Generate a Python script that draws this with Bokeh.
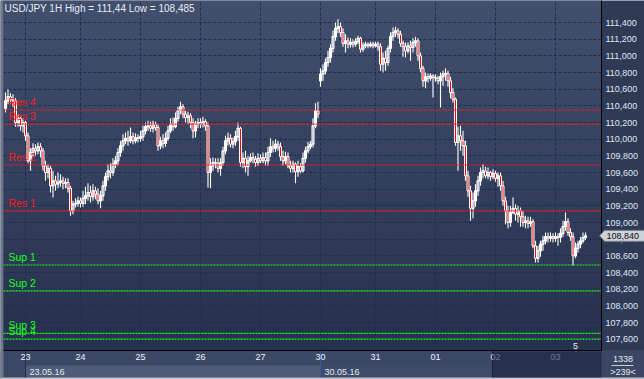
import numpy as np
from bokeh.plotting import figure
from bokeh.models import (Range1d, LinearAxis, FixedTicker, CustomJSTickFormatter,
                          ColumnDataSource, Label, Grid)
from bokeh.embed import file_html
from bokeh.resources import INLINE
from bokeh.core.properties import value

# ---------------- data (USD/JPY, 1H bars) ----------------
opens = [
    110.37, 110.46, 110.51, 110.48, 110.46, 110.20, 110.25, 110.16, 110.20, 110.04,
    109.74, 109.84, 109.89, 109.86, 109.91, 109.86, 109.68, 109.60, 109.65, 109.44,
    109.50, 109.46, 109.48, 109.50, 109.47, 109.48, 109.41, 109.14, 109.22, 109.23,
    109.26, 109.23, 109.29, 109.32, 109.36, 109.31, 109.38, 109.34, 109.26, 109.32,
    109.44, 109.55, 109.62, 109.60, 109.70, 109.74, 109.84, 109.92, 109.98, 110.01,
    109.98, 110.03, 109.98, 110.02, 110.01, 110.03, 110.10, 110.15, 110.16, 110.13,
    110.18, 110.14, 109.92, 109.98, 109.95, 110.01, 110.10, 110.18, 110.15, 110.25,
    110.34, 110.39, 110.30, 110.26, 110.28, 110.20, 110.10, 110.18, 110.20, 110.18,
    110.21, 110.16, 109.60, 109.68, 109.72, 109.71, 109.65, 109.72, 109.86, 109.98,
    110.01, 109.94, 109.97, 110.03, 110.13, 109.72, 109.77, 109.67, 109.74, 109.78,
    109.76, 109.72, 109.77, 109.74, 109.78, 109.74, 109.84, 109.91, 109.89, 109.94,
    109.91, 109.79, 109.74, 109.79, 109.68, 109.65, 109.70, 109.61, 109.67, 109.62,
    109.77, 109.86, 109.91, 109.94, 110.16, 110.34, 110.70, 110.78, 110.82, 110.92,
    110.98, 111.09, 111.23, 111.33, 111.35, 111.28, 111.15, 111.18, 111.14, 111.16,
    111.14, 111.17, 111.21, 111.08, 111.12, 111.14, 111.12, 111.14, 111.12, 111.14,
    111.11, 110.90, 110.97, 110.92, 111.09, 111.23, 111.28, 111.30, 111.26, 111.15,
    111.11, 111.06, 111.12, 111.10, 111.16, 111.18, 111.00, 110.85, 110.70, 110.75,
    110.73, 110.76, 110.74, 110.73, 110.70, 110.75, 110.78, 110.79, 110.70, 110.56,
    110.48, 109.96, 110.04, 109.98, 109.92, 109.56, 109.38, 109.17, 109.26, 109.38,
    109.50, 109.60, 109.62, 109.56, 109.60, 109.55, 109.59, 109.53, 109.56, 109.44,
    109.26, 109.14, 109.00, 109.12, 109.17, 109.10, 109.14, 109.07, 109.00, 109.02,
    108.99, 109.01, 108.72, 108.57, 108.66, 108.74, 108.78, 108.83, 108.81, 108.83,
    108.81, 108.83, 108.82, 108.87, 108.95, 109.01, 108.88, 108.83, 108.60, 108.69,
    108.74, 108.78, 108.82,
]
highs = [
    110.56, 110.60, 110.55, 110.54, 110.49, 110.30, 110.28, 110.25, 110.22, 110.08,
    109.89, 109.95, 109.94, 109.96, 109.95, 109.89, 109.74, 109.70, 109.68, 109.62,
    109.56, 109.60, 109.58, 109.55, 109.53, 109.53, 109.44, 109.26, 109.29, 109.31,
    109.30, 109.38, 109.43, 109.47, 109.44, 109.46, 109.43, 109.41, 109.38, 109.50,
    109.60, 109.70, 109.71, 109.77, 109.80, 109.89, 109.98, 110.06, 110.08, 110.10,
    110.14, 110.08, 110.07, 110.06, 110.10, 110.16, 110.20, 110.22, 110.21, 110.22,
    110.21, 110.18, 110.03, 110.06, 110.08, 110.16, 110.25, 110.26, 110.32, 110.39,
    110.45, 110.42, 110.34, 110.33, 110.31, 110.25, 110.22, 110.25, 110.25, 110.27,
    110.24, 110.20, 109.77, 109.78, 109.77, 109.77, 109.77, 109.91, 110.04, 110.08,
    110.06, 110.02, 110.10, 110.20, 110.15, 109.84, 109.86, 109.80, 109.83, 109.84,
    109.80, 109.83, 109.82, 109.84, 109.84, 109.91, 110.01, 109.98, 110.00, 109.98,
    109.96, 109.86, 109.85, 109.84, 109.74, 109.74, 109.72, 109.74, 109.71, 109.84,
    109.91, 109.97, 109.98, 110.25, 110.43, 110.45, 110.85, 110.90, 110.97, 111.06,
    111.14, 111.30, 111.40, 111.44, 111.40, 111.33, 111.26, 111.22, 111.21, 111.20,
    111.21, 111.24, 111.23, 111.16, 111.17, 111.16, 111.17, 111.17, 111.17, 111.17,
    111.15, 111.04, 111.06, 111.12, 111.28, 111.34, 111.35, 111.33, 111.30, 111.18,
    111.16, 111.16, 111.18, 111.21, 111.23, 111.21, 111.04, 110.88, 110.80, 110.79,
    110.79, 110.78, 110.78, 110.76, 110.80, 110.82, 110.85, 110.82, 110.75, 110.61,
    110.50, 110.15, 110.16, 110.10, 109.98, 109.62, 109.44, 109.36, 109.46, 109.56,
    109.66, 109.70, 109.67, 109.66, 109.62, 109.64, 109.62, 109.60, 109.60, 109.50,
    109.31, 109.20, 109.20, 109.30, 109.22, 109.20, 109.18, 109.14, 109.08, 109.07,
    109.07, 109.04, 108.78, 108.72, 108.78, 108.84, 108.88, 108.88, 108.88, 108.87,
    108.88, 108.87, 108.93, 109.02, 109.12, 109.05, 108.93, 108.88, 108.76, 108.78,
    108.83, 108.88, 108.88,
]
lows = [
    110.32, 110.42, 110.43, 110.39, 110.15, 110.15, 110.10, 110.08, 109.98, 109.71,
    109.62, 109.79, 109.80, 109.82, 109.78, 109.62, 109.50, 109.53, 109.36, 109.30,
    109.38, 109.41, 109.43, 109.40, 109.41, 109.36, 109.08, 109.10, 109.18, 109.19,
    109.18, 109.19, 109.22, 109.26, 109.24, 109.26, 109.28, 109.22, 109.17, 109.26,
    109.38, 109.50, 109.53, 109.56, 109.65, 109.68, 109.79, 109.86, 109.94, 109.92,
    109.95, 109.94, 109.95, 109.96, 109.97, 109.98, 110.06, 110.10, 110.09, 110.08,
    110.10, 109.86, 109.88, 109.89, 109.91, 109.98, 110.07, 110.10, 110.13, 110.21,
    110.30, 110.25, 110.20, 110.18, 110.13, 110.01, 110.02, 110.13, 110.13, 110.14,
    110.10, 109.42, 109.41, 109.62, 109.65, 109.60, 109.56, 109.68, 109.82, 109.92,
    109.90, 109.89, 109.92, 109.98, 109.67, 109.65, 109.60, 109.56, 109.72, 109.71,
    109.67, 109.68, 109.71, 109.71, 109.68, 109.68, 109.79, 109.84, 109.85, 109.86,
    109.74, 109.68, 109.70, 109.65, 109.60, 109.60, 109.47, 109.55, 109.59, 109.60,
    109.72, 109.83, 109.88, 109.90, 110.13, 110.25, 110.63, 110.70, 110.78, 110.87,
    110.92, 111.04, 111.18, 111.27, 111.23, 111.11, 111.04, 111.09, 111.10, 111.10,
    111.11, 111.14, 111.04, 111.05, 111.09, 111.09, 111.10, 111.09, 111.10, 111.06,
    110.82, 110.80, 110.82, 110.88, 111.04, 111.18, 111.23, 111.21, 111.11, 110.99,
    110.98, 111.03, 110.94, 111.04, 111.11, 110.94, 110.80, 110.63, 110.61, 110.68,
    110.70, 110.50, 110.69, 110.66, 110.38, 110.64, 110.70, 110.63, 110.49, 110.44,
    109.92, 109.62, 109.86, 109.80, 109.50, 109.31, 109.02, 109.05, 109.19, 109.32,
    109.44, 109.53, 109.53, 109.52, 109.50, 109.52, 109.49, 109.43, 109.38, 109.20,
    108.98, 108.93, 108.95, 109.10, 109.02, 109.00, 108.95, 108.95, 108.93, 108.93,
    108.95, 108.69, 108.52, 108.52, 108.59, 108.66, 108.74, 108.76, 108.77, 108.76,
    108.77, 108.72, 108.76, 108.83, 108.90, 108.84, 108.78, 108.485, 108.57, 108.64,
    108.69, 108.75, 108.79,
]
closes = [
    110.46, 110.51, 110.48, 110.46, 110.20, 110.25, 110.16, 110.20, 110.04, 109.74,
    109.84, 109.89, 109.86, 109.91, 109.86, 109.68, 109.60, 109.65, 109.44, 109.50,
    109.46, 109.48, 109.50, 109.47, 109.48, 109.41, 109.14, 109.22, 109.23, 109.26,
    109.23, 109.29, 109.32, 109.36, 109.31, 109.38, 109.34, 109.26, 109.32, 109.44,
    109.55, 109.62, 109.60, 109.70, 109.74, 109.84, 109.92, 109.98, 110.01, 109.98,
    110.03, 109.98, 110.02, 110.01, 110.03, 110.10, 110.15, 110.16, 110.13, 110.18,
    110.14, 109.92, 109.98, 109.95, 110.01, 110.10, 110.18, 110.15, 110.25, 110.34,
    110.39, 110.30, 110.26, 110.28, 110.20, 110.10, 110.18, 110.20, 110.18, 110.21,
    110.16, 109.60, 109.68, 109.72, 109.71, 109.65, 109.72, 109.86, 109.98, 110.01,
    109.94, 109.97, 110.03, 110.13, 109.72, 109.77, 109.67, 109.74, 109.78, 109.76,
    109.72, 109.77, 109.74, 109.78, 109.74, 109.84, 109.91, 109.89, 109.94, 109.91,
    109.79, 109.74, 109.79, 109.68, 109.65, 109.70, 109.61, 109.67, 109.62, 109.77,
    109.86, 109.91, 109.94, 110.16, 110.34, 110.30, 110.78, 110.82, 110.92, 110.98,
    111.09, 111.23, 111.33, 111.35, 111.28, 111.15, 111.18, 111.14, 111.16, 111.14,
    111.17, 111.21, 111.08, 111.12, 111.14, 111.12, 111.14, 111.12, 111.14, 111.11,
    110.90, 110.97, 110.92, 111.09, 111.23, 111.28, 111.30, 111.26, 111.15, 111.11,
    111.06, 111.12, 111.10, 111.16, 111.18, 111.00, 110.85, 110.70, 110.75, 110.73,
    110.76, 110.74, 110.73, 110.70, 110.75, 110.78, 110.79, 110.70, 110.56, 110.48,
    109.96, 110.04, 109.98, 109.92, 109.56, 109.38, 109.17, 109.26, 109.38, 109.50,
    109.60, 109.62, 109.56, 109.60, 109.55, 109.59, 109.53, 109.56, 109.44, 109.26,
    109.14, 109.00, 109.12, 109.17, 109.10, 109.14, 109.07, 109.00, 109.02, 108.99,
    109.01, 108.72, 108.57, 108.66, 108.74, 108.78, 108.83, 108.81, 108.83, 108.81,
    108.83, 108.82, 108.87, 108.95, 109.01, 108.88, 108.83, 108.60, 108.69, 108.74,
    108.78, 108.82, 108.84,
]

day_labels = ["23", "24", "25", "26", "27", "30", "31", "01", "02", "03"]
day_start_bar = [8, 30, 54, 78, 102, 126, 148, 172, 196, 220]
week_labels = ["23.05.16", "30.05.16"]
week_start_bar = [8, 126]

level_names = ["Res 4", "Res 3", "Res 2", "Res 1", "Sup 1", "Sup 2", "Sup 3", "Sup 4"]
level_values = [110.35, 110.18, 109.69, 109.14, 108.49, 108.18, 107.67, 107.60]
level_colors = ["#ff1a1a"] * 4 + ["#1aff1a"] * 4

price_ticks = [107.6, 107.8, 108.0, 108.2, 108.4, 108.6, 108.8, 109.0, 109.2,
               109.4, 109.6, 109.8, 110.0, 110.2, 110.4, 110.6, 110.8, 111.0,
               111.2, 111.4]

title_text = "USD/JPY 1H High = 111,44 Low = 108,485"
bars_total = "1338"
bars_visible = ">239<"
page_no = "5"

# ---------------- layout ----------------
FONT = "Liberation Sans"
W, H = 644, 379
FL, FR, FT, FB = 3, 601, 0, 350        # frame edges in px
NAV_SPLIT, NAV_BOTTOM, FUTURE_PX = 365, 377, 492
x_start, x_end = -0.8, 238.4
y_start, y_end = 107.464, 111.664
ppx = (FR - FL) / (x_end - x_start)
ppy = (FB - FT) / (y_end - y_start)
def px_of_bar(b):
    return FL + (b - x_start) * ppx
def py_of_price(v):
    return FT + (y_end - v) * ppy

ABS = {"position": "absolute", "left": "0px", "top": "0px"}

def overlay_fig():
    f = figure(width=W, height=H, output_backend="svg", toolbar_location=None,
               x_range=Range1d(0, W), y_range=Range1d(H, 0),
               x_axis_location=None, y_axis_location=None, min_border=0,
               outline_line_color=None)
    for g in f.grid:
        g.visible = False
    f.styles = ABS
    return f

# ---- back layer: panels of the terminal window ----
bg = overlay_fig()
bg.background_fill_color = "#2f3a55"
bg.border_fill_color = "#2f3a55"
wk_px = [px_of_bar(b) for b in week_start_bar]
bg.quad(left=[0, wk_px[0], wk_px[1], FR, 0, 0],
        right=[W, wk_px[1], FUTURE_PX, W, W, FL],
        top=[FB, NAV_SPLIT, NAV_SPLIT, FB, NAV_BOTTOM, 0],
        bottom=[NAV_BOTTOM, NAV_BOTTOM, NAV_BOTTOM, NAV_BOTTOM, H, NAV_BOTTOM],
        fill_color=["#3b4866", "#4f5c79", "#3f4c69", "#3a4662", "#c3c7cf", "#6d778b"],
        line_color=None)
bg.segment(x0=[wk_px[0], wk_px[1], FUTURE_PX], y0=[FB, FB, FB],
           x1=[wk_px[0], wk_px[1], FUTURE_PX], y1=[NAV_BOTTOM] * 3,
           line_color=["#1f2b48", "#2a5aa8", "#1a2238"], line_width=1)

# ---- main chart ----
p = figure(width=W, height=H, output_backend="svg", toolbar_location=None,
           x_range=Range1d(x_start, x_end), y_range=Range1d(y_start, y_end),
           x_axis_location=None, y_axis_location=None,
           min_border_left=FL, min_border_right=W - FR, min_border_top=FT,
           min_border_bottom=H - FB, outline_line_color=None,
           background_fill_alpha=0, border_fill_alpha=0)
p.styles = ABS
for g in p.grid:
    g.visible = False

n = 120
top_c = np.array([0x42, 0x50, 0x6e], dtype=float)
bot_c = np.array([0x26, 0x31, 0x4d], dtype=float)
t = np.linspace(0, 1, n)[:, None]
cols = (bot_c + (top_c - bot_c) * t).astype(np.uint8)
img = np.zeros((n, 1), dtype=np.uint32)
view = img.view(dtype=np.uint8).reshape((n, 1, 4))
view[:, 0, 0] = cols[:, 0]
view[:, 0, 1] = cols[:, 1]
view[:, 0, 2] = cols[:, 2]
view[:, 0, 3] = 255
p.image_rgba(image=[img], x=x_start, y=y_start, dw=x_end - x_start,
             dh=y_end - y_start, level="image")

grid_style = dict(grid_line_color="#1d2d55", grid_line_dash="3 2", grid_line_width=1)
p.add_layout(Grid(dimension=0, ticker=FixedTicker(ticks=day_start_bar), **grid_style))
p.add_layout(Grid(dimension=1, ticker=FixedTicker(ticks=price_ticks), **grid_style))

# candles
idx = np.arange(len(closes))
o = np.array(opens); c = np.array(closes)
hi = np.array(highs); lo = np.array(lows)
up = c >= o
p.segment(x0=idx, y0=lo, x1=idx, y1=hi, line_color="white", line_width=1.1)
src_up = ColumnDataSource(dict(x=idx[up], top=c[up], bottom=o[up]))
src_dn = ColumnDataSource(dict(x=idx[~up], top=o[~up], bottom=c[~up]))
p.vbar(x="x", width=0.8, top="top", bottom="bottom", source=src_up,
       fill_color=None, line_color="white", line_width=1.1)
p.vbar(x="x", width=0.8, top="top", bottom="bottom", source=src_dn,
       fill_color="#ff0000", line_color="white", line_width=1)

# support / resistance levels
lvl = ColumnDataSource(dict(y=level_values, name=level_names, color=level_colors,
                            x0=[x_start] * len(level_values), x1=[x_end] * len(level_values)))
p.segment(x0="x0", y0="y", x1="x1", y1="y", source=lvl, line_color="color",
          line_width=1.2, line_dash="2 1")
p.text(x="x0", y="y", text="name", source=lvl, text_color="color",
       text_font=value(FONT), text_font_size="10.5px", text_baseline="middle",
       x_offset=5, y_offset=-8)

# axes
yax = LinearAxis(ticker=FixedTicker(ticks=price_ticks),
                 formatter=CustomJSTickFormatter(code="return tick.toFixed(3).replace('.', ',')"),
                 axis_line_color="black", major_tick_in=0, major_tick_out=0,
                 minor_tick_line_color=None, major_label_standoff=4,
                 major_label_text_font=FONT, major_label_text_font_size="9px",
                 major_label_text_color="#dfe7f4")
p.add_layout(yax, "right")
xax = LinearAxis(ticker=FixedTicker(ticks=day_start_bar),
                 formatter=CustomJSTickFormatter(args=dict(bar_pos=day_start_bar, day_names=day_labels),
                                                 code="const k = bar_pos.indexOf(tick); return k >= 0 ? day_names[k] : ''"),
                 axis_line_color="black", major_tick_in=0, major_tick_out=0,
                 minor_tick_line_color=None, major_label_standoff=3,
                 major_label_text_font=FONT, major_label_text_font_size="9px",
                 major_label_text_color="#eef2f8")
p.add_layout(xax, "below")

lab = dict(text_font=FONT, text_color="#e6ecf6")
p.add_layout(Label(x=x_start, y=y_end, x_offset=1, y_offset=-8, text=title_text,
                   text_baseline="middle", text_font_size="10px", **lab))
p.add_layout(Label(x=x_end, y=y_start, x_offset=-26, y_offset=5, text=page_no,
                   text_baseline="middle", text_align="center", text_font_size="9px", **lab))

# ---- front layer: navigator texts, bar counters, last-price tag ----
fg = overlay_fig()
fg.background_fill_alpha = 0
fg.border_fill_alpha = 0
fg.quad(left=[FUTURE_PX], right=[FR], top=[FB + 1], bottom=[NAV_BOTTOM],
        fill_color="#1b2440", fill_alpha=0.62, line_color=None)
fg.text(x=[px + 4 for px in wk_px], y=[(NAV_SPLIT + NAV_BOTTOM) / 2] * 2, text=week_labels,
        text_font=value(FONT), text_font_size="9px", text_color="#e4eaf4",
        text_baseline="middle")
cx = (FR + W) / 2
fg.text(x=[cx, cx], y=[358, 371], text=[bars_total, bars_visible],
        text_font=value(FONT), text_font_size="9px", text_color="#e4eaf4",
        text_baseline="middle", text_align="center")
fg.segment(x0=[611], y0=[365], x1=[633], y1=[365], line_color="#c9cfda", line_width=1)

last_py = py_of_price(closes[-1])
fg.patch(x=[FR - 2, FR + 3, W, W, FR + 3], y=[last_py, last_py - 5.5, last_py - 5.5,
                                             last_py + 5.5, last_py + 5.5],
         fill_color="#cdd1d9", line_color="#70757f", line_width=1)
fg.text(x=[FR + 5], y=[last_py], text=[f"{closes[-1]:.3f}".replace(".", ",")],
        text_font=value(FONT), text_font_size="9px", text_color="#101010",
        text_baseline="middle")

open("out.html", "w").write(file_html([bg, p, fg], INLINE))
